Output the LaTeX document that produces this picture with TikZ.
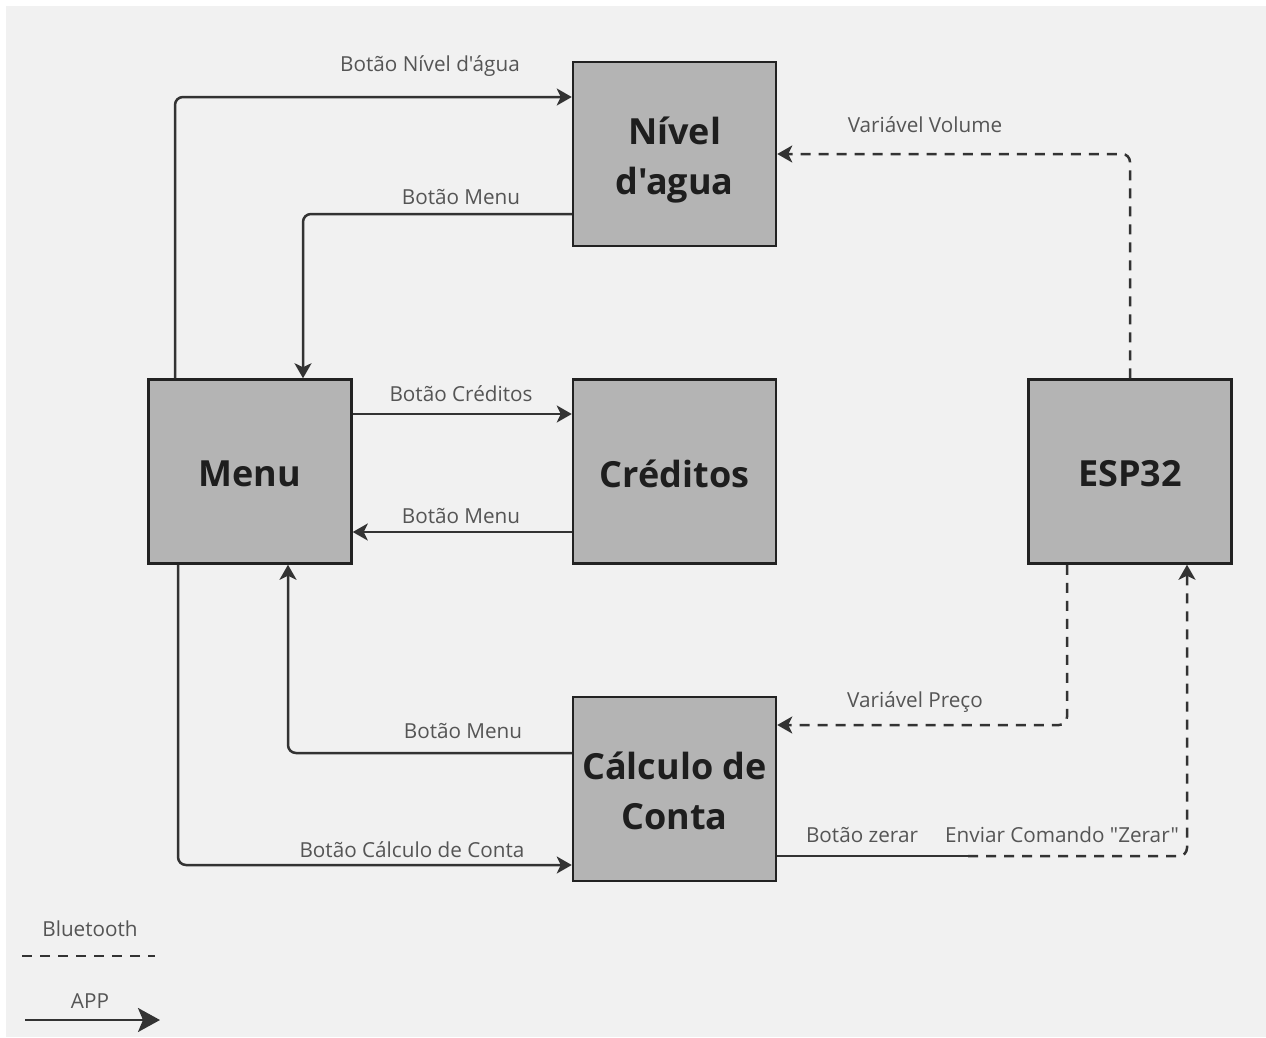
\documentclass[tikz,border=0pt]{standalone}
\usepackage{fontspec}
\setmainfont{Open Sans}[Ligatures=TeXOff]
\usetikzlibrary{arrows.meta,calc}
\definecolor{bgc}{HTML}{F1F1F1}
\definecolor{boxfill}{HTML}{B4B4B4}
\definecolor{boxline}{HTML}{222222}
\definecolor{lineclr}{HTML}{333333}
\definecolor{labelclr}{HTML}{555555}
\definecolor{titleclr}{HTML}{1E1E1E}
\tikzset{
  box/.style={draw=boxline, line width=2.5pt, fill=boxfill, minimum width=203pt, minimum height=184pt, inner sep=0pt},
  boxtext/.style={font=\fontsize{36}{50}\selectfont\bfseries, text=titleclr, align=center, inner sep=0pt},
  app/.style={draw=lineclr, line width=2.5pt, rounded corners=8pt, -{Stealth[length=15pt,width=17pt,inset=4pt]}},
  plainln/.style={draw=lineclr, line width=2.5pt},
  bt/.style={app, dash pattern=on 10pt off 8pt},
  btline/.style={draw=lineclr, line width=2.5pt, dash pattern=on 10pt off 8pt},
  lbl/.style={font=\fontsize{20.7}{24}\selectfont, text=labelclr, inner sep=0pt}
}
\begin{document}
\begin{tikzpicture}[x=1pt,y=-1pt]
\useasboundingbox (0,0) rectangle (1266,1037);
\fill[white] (0,0) rectangle (1266,1037);
\fill[bgc] (6,6) rectangle (1266,1037);

% boxes
\node[box] (niv) at (674.5,154) {};
\node[box] (menu) at (250,471.5) {};
\node[box] (cred) at (674.5,471.5) {};
\node[box] (esp) at (1130,471.5) {};
\node[box] (calc) at (674.5,789) {};
\node[boxtext] (nivt) at ([yshift=-6pt]niv.center) {Nível\\d'agua};
\node[boxtext] (menut) at ([yshift=-2pt]menu.center) {Menu};
\node[boxtext] (credt) at ([yshift=-2pt]cred.center) {Créditos};
\node[boxtext] (espt) at ([yshift=-2pt]esp.center) {ESP32};
\node[boxtext] (calct) at ([yshift=-2pt]calc.center) {Cálculo de\\Conta};

% bend coordinates
\coordinate (b1) at (175,97);
\coordinate (b2) at (303,214);
\coordinate (b3) at (288,753);
\coordinate (b4) at (178,865);
\coordinate (b5) at (1130,154);
\coordinate (b6) at (1067,725);
\coordinate (z1) at (968,856);
\coordinate (z2) at (1187,856);
\coordinate (y1) at (0,414);
\coordinate (y2) at (0,532);

% APP connectors
\draw[app] (menu.north -| b1) |- (niv.west |- b1);
\draw[app] (niv.west |- b2) -| (menu.north -| b2);
\draw[app] (menu.east |- y1) -- (cred.west |- y1);
\draw[app] (cred.west |- y2) -- (menu.east |- y2);
\draw[app] (calc.west |- b3) -| (menu.south -| b3);
\draw[app] (menu.south -| b4) |- (calc.west |- b4);

% Bluetooth connectors
\draw[bt] (esp.north) |- (niv.east |- b5);
\draw[bt] (esp.south -| b6) |- (calc.east |- b6);
\draw[plainln] (calc.east |- z1) -- (z1);
\draw[bt] (z1) -- (z2) -- (esp.south -| z2);

% labels
\node[lbl] (l1) at (430,66) {Botão Nível d'água};
\node[lbl] (l2) at (461,197) {Botão Menu};
\node[lbl] (l3) at (461,394) {Botão Créditos};
\node[lbl] (l4) at (461,516) {Botão Menu};
\node[lbl] (l5) at (463,731) {Botão Menu};
\node[lbl] (l6) at (412,850) {Botão Cálculo de Conta};
\node[lbl] (l7) at (925,125) {Variável Volume};
\node[lbl] (l8) at (915,702) {Variável Preço};
\node[lbl] (l9) at (862,835) {Botão zerar};
\node[lbl] (l10) at (1062,835) {Enviar Comando "Zerar"};

% legend
\node[lbl] (lg1) at (90,929) {Bluetooth};
\coordinate (d1) at (22,956);
\coordinate (d2) at (155,956);
\draw[btline] (d1) -- (d2);
\node[lbl] (lg2) at (90,1001) {APP};
\coordinate (a1) at (25,1020);
\coordinate (a2) at (160,1020);
\draw[plainln, -{Stealth[length=22pt,width=24pt,inset=5pt]}] (a1) -- (a2);
\end{tikzpicture}
\end{document}
